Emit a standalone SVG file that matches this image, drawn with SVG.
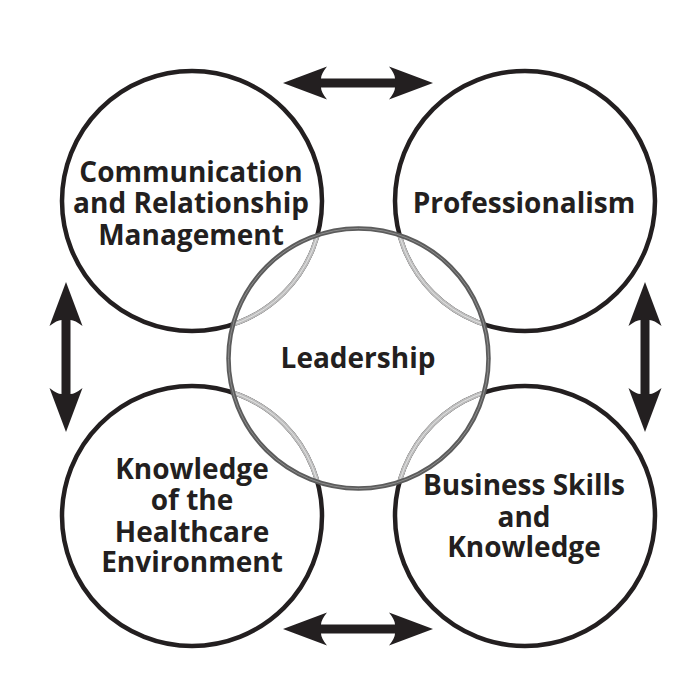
<svg xmlns="http://www.w3.org/2000/svg" width="682" height="698" viewBox="0 0 682 698">
<style>
.ring{fill:none;stroke:#231f20;stroke-width:4.5}
.inner{fill:none;stroke:#bdbdbd;stroke-width:4.5}
.innerhi{fill:none;stroke:#e2e2e2;stroke-width:1}
.lead{fill:none;stroke:#5c5c5c;stroke-width:4.5}
.leadhi{fill:none;stroke:#8e8e8e;stroke-width:1}
.lbl{font-family:"Open Sans","Noto Sans",sans-serif;font-weight:700;font-size:28px;fill:#231f20;text-anchor:middle}
.arr{fill:#231f20}
</style>
<defs>
<clipPath id="cc"><circle cx="358.5" cy="358.5" r="130"/></clipPath>
<path id="dbl" d="M0,0 L44,-16.5 Q38,-9 38,-4.5 L112,-4.5 Q112,-9 106,-16.5 L150,0 L106,16.5 Q112,9 112,4.5 L38,4.5 Q38,9 44,16.5 Z"/>
</defs>
<rect width="682" height="698" fill="#fff"/>
<g id="connectors">
<use href="#dbl" class="arr" transform="translate(283,83)"/>
<use href="#dbl" class="arr" transform="translate(283,629)"/>
<use href="#dbl" class="arr" transform="translate(66,282) rotate(90)"/>
<use href="#dbl" class="arr" transform="translate(645,282) rotate(90)"/>
</g>
<g id="node-communication">
<circle class="ring" cx="192" cy="201" r="130"/>
<text class="lbl" x="191" y="182">Communication</text>
<text class="lbl" x="191" y="213">and Relationship</text>
<text class="lbl" x="191" y="245">Management</text>
</g>
<g id="node-professionalism">
<circle class="ring" cx="525" cy="201" r="130"/>
<text class="lbl" x="524" y="213">Professionalism</text>
</g>
<g id="node-healthcare">
<circle class="ring" cx="192" cy="516" r="130"/>
<text class="lbl" x="192" y="479">Knowledge</text>
<text class="lbl" x="192" y="510">of the</text>
<text class="lbl" x="192" y="542">Healthcare</text>
<text class="lbl" x="192" y="572">Environment</text>
</g>
<g id="node-business">
<circle class="ring" cx="525" cy="516" r="130"/>
<text class="lbl" x="524" y="495">Business Skills</text>
<text class="lbl" x="524" y="527">and</text>
<text class="lbl" x="524" y="557">Knowledge</text>
</g>
<g id="node-leadership">
<g clip-path="url(#cc)">
<circle class="inner" cx="192" cy="201" r="130"/>
<circle class="inner" cx="525" cy="201" r="130"/>
<circle class="inner" cx="192" cy="516" r="130"/>
<circle class="inner" cx="525" cy="516" r="130"/>
<circle class="innerhi" cx="192" cy="201" r="130"/>
<circle class="innerhi" cx="525" cy="201" r="130"/>
<circle class="innerhi" cx="192" cy="516" r="130"/>
<circle class="innerhi" cx="525" cy="516" r="130"/>
</g>
<circle class="lead" cx="358.5" cy="358.5" r="130"/>
<circle class="leadhi" cx="358.5" cy="358.5" r="130"/>
<text class="lbl" x="358" y="368">Leadership</text>
</g>
</svg>
